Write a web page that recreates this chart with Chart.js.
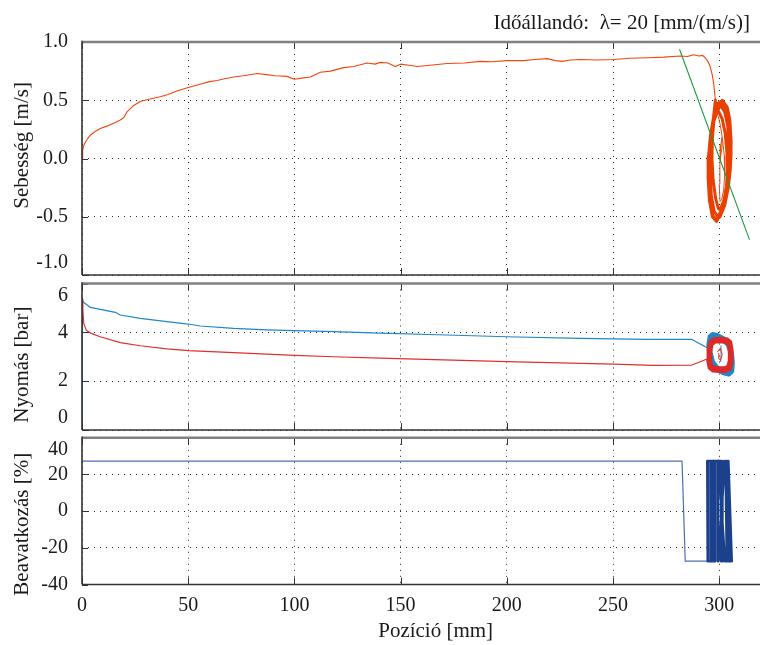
<!DOCTYPE html>
<html>
<head>
<meta charset="utf-8">
<script src="https://cdn.jsdelivr.net/npm/chart.js@4.4.1/dist/chart.umd.min.js"></script>
<style>
  html, body { margin: 0; padding: 0; background: #fff; overflow: hidden; }
  #wrap { position: relative; width: 760px; height: 645px; overflow: hidden; }
  #wrap canvas { position: absolute; left: 0; top: 0; }
  #caption {
    position: absolute; right: 10px; top: 12px;
    font-family: "Liberation Serif", "DejaVu Serif", serif; font-size: 21px; line-height: 21px;
    color: #1a1a1a; white-space: pre;
  }
</style>
</head>
<body>
<div id="wrap">
  <canvas id="velChart" width="800" height="645"></canvas>
  <canvas id="presChart" width="800" height="645"></canvas>
  <canvas id="ctrlChart" width="800" height="645"></canvas>
  <div id="caption">Időállandó:  λ= 20 [mm/(m/s)]</div>
</div>
<script>
// ---- shared position axis ----
const posTicks = [0, 50, 100, 150, 200, 250, 300];

// ---- velocity [m/s] vs position [mm] ----
const velTicks = [-1.0, -0.5, 0.0, 0.5, 1.0];
const velPos = [0, 0.3, 0.8, 1.6, 2.6, 3.9, 6.0, 8.6, 12.0, 15.7, 18.0, 19.6, 21.2, 24.0, 27.4, 32.0, 36.9, 40.5, 44.7, 50.0,
  56.0, 60.0, 63.6, 66.0, 71.4, 76.0, 82.4, 86.7, 91.0, 96.5, 100.0, 103.5, 107.5, 112.2, 117.0, 123.2, 128.0, 134.2, 138.0,
  140.4, 144.0, 147.5, 150.0, 154.0, 157.7, 164.0, 171.8, 180.0, 187.5, 193.0, 200.0, 208.0, 213.0, 218.9, 223.0, 226.0,
  230.0, 234.6, 242.0, 250.2, 258.0, 266.0, 274.0, 281.7, 285.0, 288.0, 290.5, 292.2, 293.4, 294.8, 295.8, 296.7, 297.4, 298.2];
const velVal = [0.00, 0.07, 0.11, 0.14, 0.17, 0.20, 0.23, 0.257, 0.28, 0.31, 0.33, 0.35, 0.40, 0.45, 0.49, 0.51, 0.53, 0.55, 0.58, 0.61,
  0.64, 0.66, 0.67, 0.68, 0.70, 0.71, 0.73, 0.72, 0.71, 0.705, 0.68, 0.69, 0.70, 0.74, 0.75, 0.78, 0.79, 0.82, 0.81,
  0.825, 0.82, 0.79, 0.81, 0.80, 0.79, 0.80, 0.815, 0.82, 0.834, 0.83, 0.84, 0.84, 0.85, 0.857, 0.84, 0.834,
  0.845, 0.85, 0.845, 0.85, 0.86, 0.865, 0.87, 0.88, 0.875, 0.89, 0.88, 0.885, 0.865, 0.83, 0.785, 0.72, 0.643, 0.50];
// oscillation around the end position (several laps)
const velLoopPos = [298.2, 297.0, 296.0, 295.4, 295.3, 295.9, 297.0, 298.6, 300.4, 302.6, 304.2, 305.2, 305.6, 305.3, 304.4, 302.8, 300.8,
  299.0, 297.4, 295.9, 295.0, 294.8, 295.4, 296.8, 298.8, 300.8, 303.0, 304.6, 305.5, 305.6, 305.0, 303.8, 301.5,
  299.0, 297.6, 296.5, 295.8, 295.7, 296.3, 297.6, 299.2, 300.6, 302.6, 304.0, 304.7, 304.6, 304.0, 302.6, 300.6,
  298.8, 297.5, 296.8, 296.6, 297.1, 298.3, 299.6, 300.4, 302.2, 303.4, 303.9, 303.6, 302.8, 301.4, 299.8, 298.5];
const velLoopVal = [0.50, 0.30, 0.10, -0.10, -0.28, -0.40, -0.49, -0.53, -0.50, -0.40, -0.26, -0.10, 0.05, 0.20, 0.33, 0.44, 0.49,
  0.47, 0.36, 0.20, 0.02, -0.17, -0.36, -0.50, -0.54, -0.47, -0.33, -0.18, 0.0, 0.15, 0.33, 0.44, 0.50,
  0.44, 0.36, 0.22, 0.05, -0.13, -0.32, -0.45, -0.50, -0.46, -0.36, -0.22, -0.06, 0.10, 0.28, 0.40, 0.46,
  0.39, 0.32, 0.18, 0.0, -0.18, -0.34, -0.43, -0.44, -0.36, -0.24, -0.10, 0.06, 0.22, 0.34, 0.40, 0.40];
// final small settling swing
const velSettlePos = [298.5, 299.6, 300.6, 301.6, 302.4, 302.6, 302.1, 301.2, 300.4, 300.0, 300.3, 301.1, 301.3, 300.8, 300.5];
const velSettleVal = [0.40, 0.36, 0.28, 0.16, 0.02, -0.14, -0.27, -0.35, -0.37, -0.22, -0.05, 0.08, 0.18, 0.12, -0.02];
// switching line of the sliding-mode controller
const switchPos = [281.4, 314.2];
const switchVal = [0.934, -0.694];

// ---- chamber pressures [bar] ----
const presTicks = [0, 2, 4, 6];
const presAPos = [0, 0, 0.4, 1.2, 3.9, 8.6, 15.7, 18.0, 27.4, 40.0, 50.0, 55.7, 71.4, 86.9, 100.0, 118.5, 140.4, 171.8, 200.0, 234.6, 266.0, 287.2, 293.4, 295.4];
const presAVal = [0, 5.4, 5.3, 5.2, 5.02, 4.94, 4.82, 4.71, 4.57, 4.44, 4.34, 4.26, 4.16, 4.10, 4.07, 4.03, 3.97, 3.89, 3.82, 3.75, 3.71, 3.71, 3.41, 3.35];
const presBPos = [0, 0.4, 0.8, 2.0, 4.0, 8.6, 18.0, 27.4, 40.0, 50.0, 71.4, 100.0, 118.5, 140.4, 200.0, 250.2, 269.0, 287.2, 294.3, 295.2];
const presBVal = [5.35, 4.9, 4.37, 4.09, 3.97, 3.82, 3.58, 3.45, 3.32, 3.25, 3.17, 3.06, 3.00, 2.94, 2.80, 2.70, 2.65, 2.66, 2.91, 3.10];
// pressure oscillation around the end position
const presALoopPos = [295.0, 295.6, 296.8, 299.0, 302.0, 304.5, 305.9, 306.3, 306.0, 304.5, 302.0, 299.0, 296.8, 295.4, 295.0,
  295.8, 297.0, 299.2, 302.0, 304.2, 305.3, 305.5, 304.9, 303.4, 301.0, 298.8, 296.9, 296.0, 295.8];
const presALoopVal = [3.50, 3.82, 3.92, 3.88, 3.75, 3.52, 3.15, 2.75, 2.40, 2.28, 2.33, 2.48, 2.72, 3.05, 3.50,
  3.48, 3.74, 3.78, 3.68, 3.48, 3.18, 2.80, 2.50, 2.40, 2.45, 2.58, 2.80, 3.12, 3.48];
const presBLoopPos = [295.0, 295.8, 297.5, 300.5, 303.5, 305.2, 305.8, 305.8, 305.0, 303.0, 300.0, 297.0, 295.5, 294.8, 295.0,
  295.8, 296.5, 298.0, 300.5, 303.2, 304.6, 305.0, 305.0, 304.3, 302.6, 300.0, 297.5, 296.2, 295.7, 295.8];
const presBLoopVal = [3.30, 3.60, 3.72, 3.74, 3.72, 3.60, 3.30, 2.80, 2.50, 2.42, 2.42, 2.44, 2.55, 2.85, 3.30,
  3.25, 3.52, 3.62, 3.63, 3.60, 3.50, 3.25, 2.85, 2.60, 2.53, 2.53, 2.55, 2.65, 2.90, 3.25];
const presAInnerPos = [300.8, 300.9, 300.7];
const presAInnerVal = [3.45, 3.10, 2.80];
const presBInnerPos = [299.2, 300.5, 301.4, 300.6, 299.6, 299.8];
const presBInnerVal = [3.20, 3.35, 3.10, 2.85, 2.95, 3.15];

// ---- control signal [%] ----
const ctrlTicks = [-40, -20, 0, 20, 40];
const ctrlPos = [0, 282.5, 284.0, 295.8];
const ctrlVal = [27.3, 27.3, -27.3, -27.3];
const ctrlSwPos = [295.8, 295.9, 294.4, 294.6, 296.6, 296.5, 297.2, 297.3, 298.1, 298.0, 299.3, 299.4, 299.6, 302.6,
  303.0, 303.6, 305.9, 304.3, 303.8, 304.8, 302.7, 299.6, 300.8, 300.9, 301.6, 301.5];
const ctrlSwVal = [-27.3, 27.3, 27.3, -27.3, -27.3, 27.3, 27.3, -27.3, -27.3, 27.3, 27.3, -27.3, -27.3, 27.3,
  27.3, -27.3, -27.3, 27.3, 27.3, -27.3, -27.3, 27.3, 27.3, -27.3, -27.3, 27.3];

// ---- helpers ----
const pts = (xs, ys) => xs.map((x, i) => ({ x, y: ys[i] }));
const FONT = '"Liberation Serif", "DejaVu Serif", serif';
const INK = '#1a1a1a';
const X_MIN = 0, X_MAX = 333;

// order: lower values are painted on top
function line(data, color, width, order) {
  return { data, borderColor: color, borderWidth: width, pointRadius: 0, showLine: true, tension: 0, fill: false,
    borderJoinStyle: 'round', borderCapStyle: 'round', order };
}

// gnuplot-like frame with inward tick marks
const framePlugin = {
  id: 'frame',
  afterDraw(chart) {
    const { ctx, chartArea: a, scales } = chart;
    const seg = (x1, y1, x2, y2) => { ctx.beginPath(); ctx.moveTo(x1, y1); ctx.lineTo(x2, y2); ctx.stroke(); };
    ctx.save();
    ctx.strokeStyle = '#333';
    ctx.lineWidth = 1;
    scales.x.ticks.forEach(t => {
      const px = Math.round(scales.x.getPixelForValue(t.value)) + 0.5;
      seg(px, a.top, px, a.top + 7);
      seg(px, a.bottom, px, a.bottom - 7);
    });
    scales.y.ticks.forEach(t => {
      const py = Math.round(scales.y.getPixelForValue(t.value)) + 0.5;
      seg(a.left, py, a.left + 6, py);
      seg(a.right, py, a.right - 6, py);
    });
    ctx.strokeStyle = '#808080';
    ctx.lineWidth = 2.5;
    seg(a.left, a.top, a.right, a.top);
    seg(a.right, a.top, a.right, a.bottom);
    ctx.strokeStyle = '#333';
    ctx.lineWidth = 1.6;
    seg(a.left, a.top - 1.2, a.left, a.bottom);
    seg(a.left, a.bottom, a.right, a.bottom);
    ctx.restore();
  }
};

function yAxis(title, ticks, min, max, fmt, nudges) {
  return {
    type: 'linear', min, max,
    afterBuildTicks: s => { s.ticks = ticks.map(v => ({ value: v })); },
    afterFit: s => { s.width = 82; },
    ticks: {
      color: INK, padding: 14, autoSkip: false, font: { family: FONT, size: 20 },
      callback: v => {
        const label = fmt(v);
        const n = nudges[v];
        if (n === 'down') return ['', label];
        if (n === 'up') return [label, ''];
        return label;
      }
    },
    grid: { color: '#2a2a2a', lineWidth: 1, drawTicks: false },
    border: { display: false, dash: [1, 5] },
    title: { display: true, text: title, color: INK, font: { family: FONT, size: 21 }, padding: { top: 10, bottom: 0 } }
  };
}

function xAxis(showLabels) {
  return {
    type: 'linear', min: X_MIN, max: X_MAX,
    afterBuildTicks: s => { s.ticks = posTicks.map(v => ({ value: v })); },
    afterFit: s => { s.height = showLabels ? 60.5 : 0; },
    ticks: { display: showLabels, color: INK, padding: 9, maxRotation: 0, autoSkip: false, font: { family: FONT, size: 20 } },
    grid: { color: '#2a2a2a', lineWidth: 1, drawTicks: false },
    border: { display: false, dash: [1, 5] },
    title: { display: showLabels, text: 'Pozíció [mm]', color: INK, font: { family: FONT, size: 21 }, padding: { top: 0, bottom: 1 } }
  };
}

function makeChart(id, datasets, yOpts, top, bottom, showX) {
  return new Chart(document.getElementById(id), {
    type: 'scatter',
    data: { datasets },
    options: {
      responsive: false, animation: false, devicePixelRatio: 1,
      layout: { padding: { left: 0, right: 10.7, top, bottom } },
      plugins: { legend: { display: false }, tooltip: { enabled: false } },
      scales: { x: xAxis(showX), y: yOpts }
    },
    plugins: [framePlugin]
  });
}

const oneDec = v => v.toFixed(1);
const plain = v => String(v);

makeChart('velChart', [
  line(pts(velPos, velVal), '#f0460c', 1.1, 3),
  line(pts(velLoopPos, velLoopVal), '#e84000', 3, 2),
  line(pts(velSettlePos, velSettleVal), '#ea4a10', 1, 1),
  line(pts(switchPos, switchVal), '#1a9a40', 1.1, 0)
], yAxis('     Sebesség [m/s]', velTicks, -1.0, 1.0, oneDec, { '-1': 'up' }), 42, 645 - 275, false);

makeChart('presChart', [
  line(pts(presAPos, presAVal), '#1f86c8', 1.2, 5),
  line(pts(presBPos, presBVal), '#e0302c', 1.2, 4),
  line(pts(presALoopPos, presALoopVal), '#1f86c8', 4.5, 3),
  line(pts(presBLoopPos, presBLoopVal), '#dc2a28', 4, 2),
  line(pts(presAInnerPos, presAInnerVal), '#1f86c8', 1, 1),
  line(pts(presBInnerPos, presBInnerVal), '#dc2a28', 1, 0)
], yAxis('Nyomás [bar]   ', presTicks, 0, 6, plain, { '6': 'down', '0': 'up' }), 283.5, 645 - 430, false);

makeChart('ctrlChart', [
  line(pts(ctrlPos, ctrlVal), '#4d6eae', 1.2, 1),
  line(pts(ctrlSwPos, ctrlSwVal), '#1c418c', 2.6, 0)
], yAxis('Beavatkozás [%]     ', ctrlTicks, -40, 40, plain, { '40': 'down' }), 437.8, 0, true);
</script>
</body>
</html>
